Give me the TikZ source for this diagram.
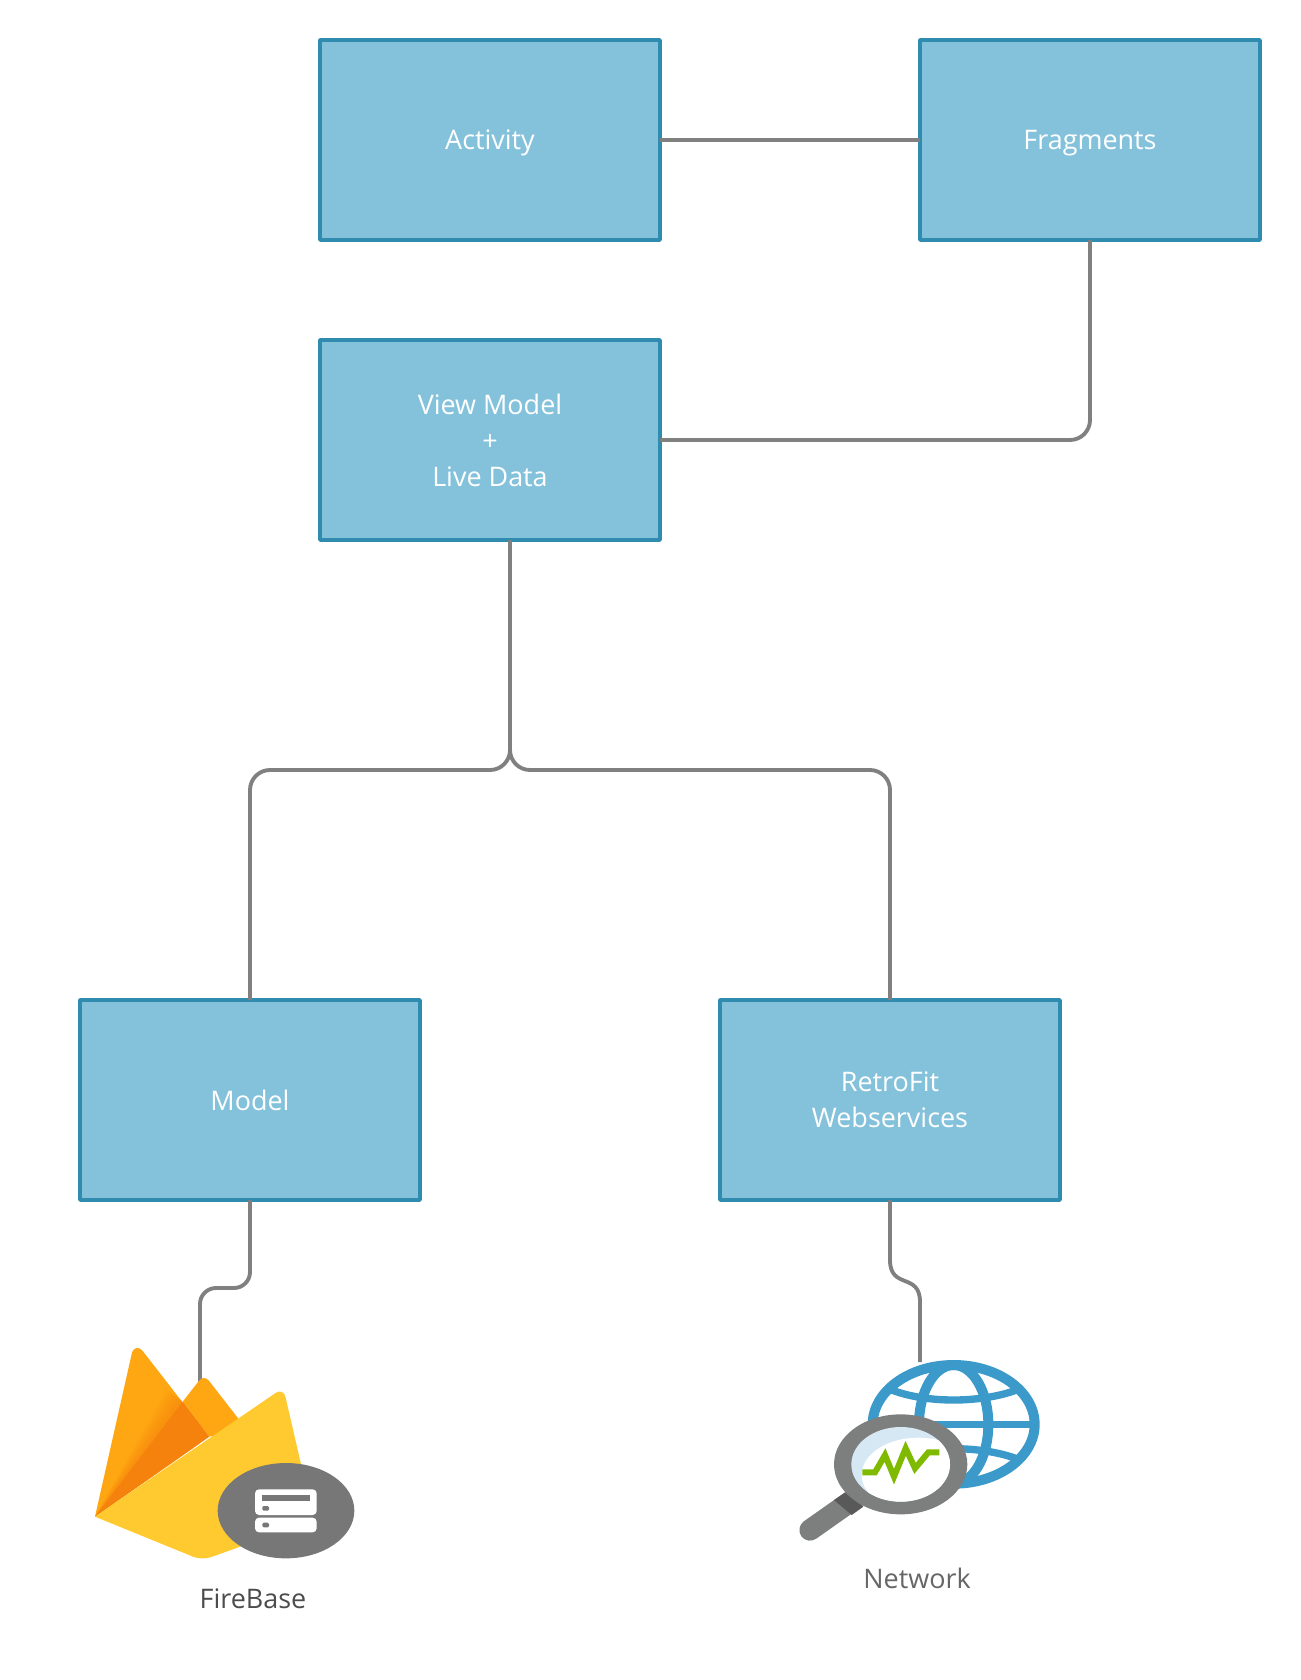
\documentclass[tikz,border=0pt]{standalone}
\usepackage{fontspec}
\setmainfont{Open Sans}
\definecolor{boxfill}{HTML}{84C2DC}
\definecolor{boxline}{HTML}{308CAF}
\definecolor{connline}{HTML}{808080}
\definecolor{flameorange}{HTML}{FFA712}
\definecolor{flamedark}{HTML}{F6820E}
\definecolor{flameyellow}{HTML}{FFCA2F}
\definecolor{badgegray}{HTML}{777777}
\definecolor{globeblue}{HTML}{3B9AC9}
\definecolor{lensgray}{HTML}{7D7E7E}
\definecolor{lensdark}{HTML}{585958}
\definecolor{lensblue}{HTML}{D6E8F3}
\definecolor{pulsegreen}{HTML}{7FBA00}
\tikzset{
  block/.style={draw=boxline,fill=boxfill,line width=2.8pt,line join=round,minimum width=255pt,minimum height=150pt,
    inner sep=0pt,outer sep=0pt,text=white,align=center,font=\fontsize{20.2}{27}\selectfont},
  conn/.style={draw=connline,line width=2.9pt},
  iconlabel/.style={inner sep=0pt,font=\fontsize{20.2}{27}\selectfont}
}
\begin{document}
\begin{tikzpicture}[x=0.75pt,y=-0.75pt]
  \useasboundingbox (0,0) rectangle (1300,1680);

  \coordinate (vmout) at (510,540);
  \coordinate (split) at (510,770);
  \coordinate (fbtop) at (200,1385);
  \coordinate (nettop) at (920,1362);

  \node[block,text depth=0pt] (activity) at (490,140) {Activity};
  \node[block,text depth=0pt] (fragments) at (1090,140) {Fragments};
  \node[block] (viewmodel) at (490,440) {View Model\\+\\Live Data};
  \node[block] (model) at (250,1100) {Model};
  \node[block] (retrofit) at (890,1100) {RetroFit\\Webservices};

  \draw[conn] (activity) -- (fragments);
  \draw[conn,rounded corners=15pt] (fragments.south) |- (viewmodel.east);
  \draw[conn,rounded corners=15pt] (vmout) -- (split) -| (model.north);
  \draw[conn,rounded corners=15pt] (vmout) -- (split) -| (retrofit.north);
  \draw[conn,rounded corners=12pt] (model.south) -- ++(0,88) -| (fbtop);
  \draw[conn] (retrofit.south) -- ++(0,60) .. controls (890,1290) and (920,1272) .. (920,1302) -- (nettop);

  \begin{scope}[shift={(60,1220)},x=0.25pt,y=-0.25pt]
    \fill[flameorange] (105,890) [rounded corners=10.5pt] -- (224,362) -- (448,650) [sharp corners] -- cycle;
    \begin{scope}
      \clip (105,890) [rounded corners=10.5pt] -- (224,362) -- (448,650) [sharp corners] -- cycle;
      \foreach \w in {10,20,30,40,50,60}
        \fill[flamedark,opacity=0.12] (105,890) -- (368,545) -- ++(-.795*\w,-.606*\w) -- cycle;
    \end{scope}
    \fill[flameorange] (368,545) [rounded corners=6pt] -- (432,463) -- (560,628) [sharp corners] -- (448,650) -- cycle;
    \fill[flamedark] (105,890) -- (368,545) -- (448,650) -- cycle;
    \fill[flameyellow] (105,890) [rounded corners=7pt] -- (670,503) -- (741,810) -- (700,923) -- (426,1021) [sharp corners] -- cycle;
    \fill[badgegray] (678,872) ellipse [x radius=205,y radius=143];
    \fill[white,rounded corners=3pt] (585,808) rectangle (770,885);
    \fill[white,rounded corners=3pt] (585,893) rectangle (770,937);
    \fill[badgegray] (607,824) rectangle (750,844);
    \fill[badgegray,rounded corners=1pt] (607,858) rectangle (627,872);
    \fill[badgegray,rounded corners=1pt] (607,908) rectangle (627,922);
  \end{scope}

  \begin{scope}[shift={(760,1220)},x=0.25pt,y=-0.25pt]
    \draw[globeblue,line width=7.5pt] (581,613) ellipse [x radius=243,y radius=178];
    \draw[globeblue,line width=7.5pt] (581,613) ellipse [x radius=104,y radius=178];
    \draw[globeblue,line width=5.5pt] (340,613) -- (820,613);
    \draw[globeblue,line width=5.5pt] (395,510) .. controls (500,550) and (660,550) .. (770,510);
    \draw[globeblue,line width=5.5pt] (395,716) .. controls (500,676) and (660,676) .. (770,716);
    \draw[lensgray,line width=16pt,line cap=round] (285,835) -- (150,930);
    \fill[lensdark] (255,818) -- (222,840) -- (275,885) -- (310,860) -- cycle;
    \fill[lensgray] (422,733) ellipse [x radius=200,y radius=150];
    \fill[lensblue] (422,733) ellipse [x radius=148,y radius=112];
    \begin{scope}
      \clip (422,733) ellipse [x radius=148,y radius=112];
      \fill[white] (475,765) ellipse [x radius=170,y radius=112];
    \end{scope}
    \draw[pulsegreen,line width=4.5pt] (307,757) -- (345,757) -- (375,705) -- (402,770) -- (437,685) -- (465,745) -- (505,697) -- (538,697);
  \end{scope}

  \node[iconlabel,text=black!70] (fblabel) at (253,1599) {FireBase};
  \node[iconlabel,text=black!60] (netlabel) at (917,1578) {Network};
\end{tikzpicture}
\end{document}
